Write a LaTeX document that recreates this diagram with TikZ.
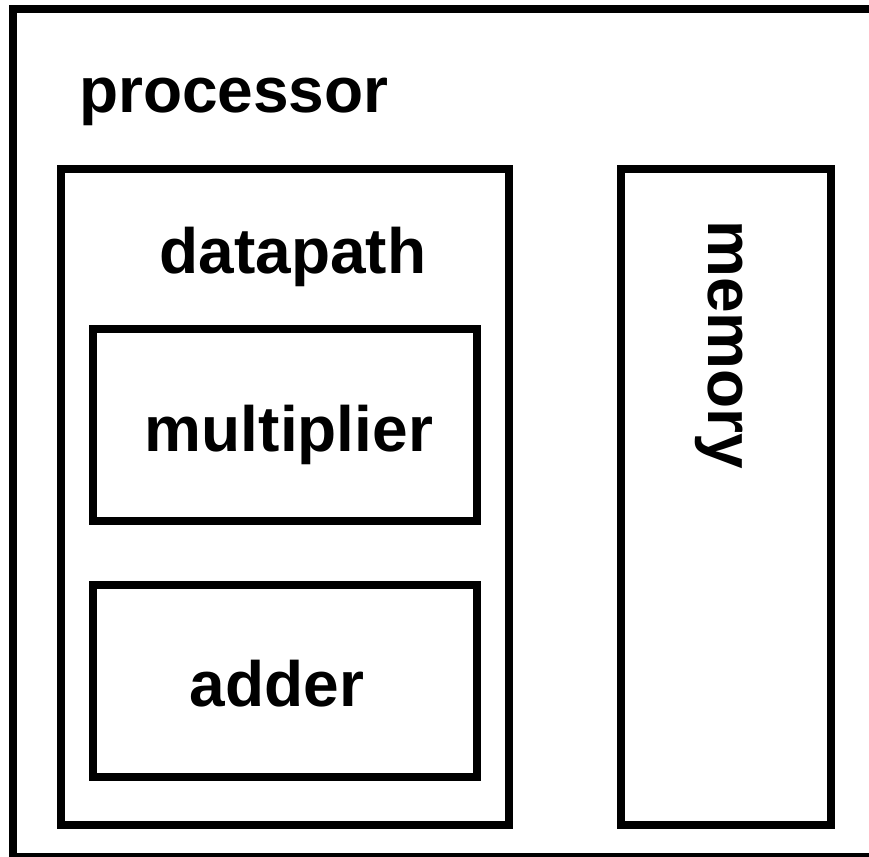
\documentclass[tikz,border=0pt]{standalone}
\usepackage{fontspec}
\setmainfont{Liberation Sans}
\begin{document}
\begin{tikzpicture}[x=1pt,y=-1pt,
  box/.style={draw=black,line width=8pt,rectangle,inner sep=0pt,outer sep=0pt},
  lbl/.style={font=\fontsize{64}{64}\selectfont\bfseries,inner sep=0pt,outer sep=0pt}]
\useasboundingbox (0,0) rectangle (869,856);
\clip (0,0) rectangle (869,856);
\node[box,anchor=north west,minimum width=887pt,minimum height=848pt] (proc) at (13,9) {};
\node[box,anchor=north west,minimum width=448pt,minimum height=656pt] (dp) at (61,169) {};
\node[box,anchor=north west,minimum width=210pt,minimum height=656pt] (mem) at (621,169) {};
\node[box,anchor=north west,minimum width=384pt,minimum height=192pt] (mul) at (93,329) {};
\node[box,anchor=north west,minimum width=384pt,minimum height=192pt] (add) at (93,585) {};
\node[lbl,anchor=base west] (proct) at (79,113) {processor};
\node[lbl,anchor=base] (dpt) at (293,273) {datapath};
\node[lbl,anchor=base] (mult) at (289,451) {multiplier};
\node[lbl,anchor=base] (addt) at (277,706) {adder};
\node[lbl,anchor=base,rotate=-90] (memt) at (708,345) {memory};
\end{tikzpicture}
\end{document}
